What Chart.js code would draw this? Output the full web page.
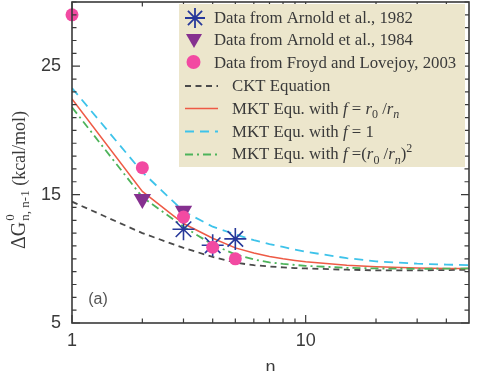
<!DOCTYPE html>
<html><head><meta charset="utf-8">
<script src="https://cdn.jsdelivr.net/npm/chart.js@4.4.0/dist/chart.umd.min.js"></script>
<style>html,body{margin:0;padding:0;background:#fff;}#wrap{width:478px;height:371px;}</style>
</head><body><div id="wrap"><canvas id="c" width="478" height="371"></canvas></div>
<script>
// ---- data ----
const curveN = [1, 2, 3, 4, 5, 6, 7, 8, 9, 10, 15, 20, 30, 40, 50];
const cktEquation = [14.45, 12.0, 10.85, 10.15, 9.7, 9.5, 9.4, 9.33, 9.28, 9.25, 9.15, 9.1, 9.1, 9.12, 9.15];
const mktRatio = [22.45, 15.25, 12.75, 11.6, 10.85, 10.45, 10.18, 10.0, 9.87, 9.77, 9.5, 9.38, 9.28, 9.25, 9.24];
const mktOne = [23.3, 16.75, 13.7, 12.5, 11.9, 11.45, 11.15, 10.92, 10.72, 10.55, 10.05, 9.8, 9.62, 9.55, 9.5];
const mktSquare = [21.8, 14.8, 12.5, 11.1, 10.35, 9.95, 9.72, 9.6, 9.52, 9.45, 9.3, 9.25, 9.22, 9.23, 9.25];
const arnold1982N = [3, 4, 5];
const arnold1982 = [12.3, 11.05, 11.55];
const arnold1984N = [2, 3];
const arnold1984 = [14.65, 13.75];
const froydN = [1, 2, 3, 4, 5];
const froyd = [29.0, 17.1, 13.25, 10.9, 10.0];
const xTickValues = [1, 10];
const yTickValues = [5, 15, 25];
const xMinorTicks = [2, 3, 4, 5, 6, 7, 8, 9, 20, 30, 40];
const yMinorTicks = [6,7,8,9,10,11,12,13,14,16,17,18,19,20,21,22,23,24,26,27,28,29,30];
const legendLabels = [
  [{t:'Data from Arnold et al., 1982'}],
  [{t:'Data from Arnold et al., 1984'}],
  [{t:'Data from Froyd and Lovejoy, 2003'}],
  [{t:'CKT Equation'}],
  [{t:'MKT Equ. with '},{t:'f',i:1},{t:' = '},{t:'r',i:1},{t:'0',sub:1},{t:' /'},{t:'r',i:1},{t:'n',sub:1,i:1}],
  [{t:'MKT Equ. with '},{t:'f',i:1},{t:' = 1'}],
  [{t:'MKT Equ. with '},{t:'f',i:1},{t:' =('},{t:'r',i:1},{t:'0',sub:1},{t:' /'},{t:'r',i:1},{t:'n',sub:1,i:1},{t:')'},{t:'2',sup:1}]
];

const C = {
  star: '#27399a', tri: '#85308f', pink: '#f24aa2',
  ckt: '#4a4a4a', red: '#ee5a45', blue: '#3ec3ea', green: '#4db35a',
  axis: '#3a3a3a', text: '#3a3a3a'
};
const xy = (xs, ys) => xs.map((x, i) => ({x, y: ys[i]}));

const datasets = [
  {label:'Data from Arnold et al., 1982', data: xy(arnold1982N, arnold1982), pointStyle:'star', pointRadius:11,
   borderColor:C.star, backgroundColor:C.star, pointBorderWidth:1.6, order:3, clip:false, showLine:false},
  {label:'Data from Arnold et al., 1984', data: xy(arnold1984N, arnold1984), pointStyle:'triangle', rotation:180, pointRadius:10,
   borderColor:C.tri, backgroundColor:C.tri, pointBorderWidth:0, order:2, clip:false, showLine:false},
  {label:'Data from Froyd and Lovejoy, 2003', data: xy(froydN, froyd), pointStyle:'circle', pointRadius:6.5,
   borderColor:C.pink, backgroundColor:C.pink, pointBorderWidth:0, order:1, clip:false, showLine:false},
  {label:'CKT Equation', data: xy(curveN, cktEquation), showLine:true, pointRadius:0, borderColor:C.ckt,
   borderWidth:1.8, borderDash:[6,4.5], order:10, tension:0},
  {label:'MKT f=r0/rn', data: xy(curveN, mktRatio), showLine:true, pointRadius:0, borderColor:C.red,
   borderWidth:1.5, order:9, tension:0},
  {label:'MKT f=1', data: xy(curveN, mktOne), showLine:true, pointRadius:0, borderColor:C.blue,
   borderWidth:1.8, borderDash:[9,6], order:8, tension:0},
  {label:'MKT f=(r0/rn)^2', data: xy(curveN, mktSquare), showLine:true, pointRadius:0, borderColor:C.green,
   borderWidth:1.8, borderDash:[8,4,2,4], order:7, tension:0}
];

function drawRich(ctx, x, y, segs, base, sub) {
  let cx = x;
  for (const s of segs) {
    const size = (s.sub || s.sup) ? sub : base;
    ctx.font = (s.i ? 'italic ' : '') + size + 'px "Liberation Serif"';
    const dy = s.sub ? base*0.28 : (s.sup ? -base*0.42 : 0);
    ctx.fillText(s.t, cx, y + dy);
    cx += ctx.measureText(s.t).width;
  }
  return cx;
}

function drawStar(ctx, x, y, r) {
  ctx.beginPath();
  for (let k = 0; k < 4; k++) {
    const a = k * Math.PI / 4;
    ctx.moveTo(x - Math.cos(a)*r, y - Math.sin(a)*r);
    ctx.lineTo(x + Math.cos(a)*r, y + Math.sin(a)*r);
  }
  ctx.stroke();
}

const framePlugin = {
  id: 'frame',
  afterDatasetsDraw(chart) {
    const ctx = chart.ctx, a = chart.chartArea;
    const xs = chart.scales.x, ys = chart.scales.y;
    ctx.save();
    ctx.strokeStyle = C.axis;
    ctx.lineWidth = 1.6;
    ctx.strokeRect(a.left, a.top, a.right - a.left, a.bottom - a.top);
    ctx.lineWidth = 1.2;
    ctx.beginPath();
    const tx = (v, len) => { const p = xs.getPixelForValue(v);
      ctx.moveTo(p, a.bottom); ctx.lineTo(p, a.bottom - len);
      ctx.moveTo(p, a.top); ctx.lineTo(p, a.top + len); };
    const ty = (v, len) => { const p = ys.getPixelForValue(v);
      ctx.moveTo(a.left, p); ctx.lineTo(a.left + len, p);
      ctx.moveTo(a.right, p); ctx.lineTo(a.right - len, p); };
    xTickValues.forEach(v => tx(v, 8));
    xMinorTicks.forEach(v => tx(v, 4.5));
    yTickValues.forEach(v => ty(v, 8));
    yMinorTicks.forEach(v => ty(v, 4.5));
    ctx.stroke();

    // legend box
    ctx.fillStyle = '#ece6cc';
    ctx.fillRect(179, 4, 286, 163);
    const base = [22.5, 45.3, 68.1, 90.9, 113.7, 136.5, 159.3];
    ctx.fillStyle = C.text;
    ctx.textBaseline = 'alphabetic';
    ctx.textAlign = 'left';
    legendLabels.forEach((segs, i) => {
      drawRich(ctx, i < 3 ? 214 : 232, base[i], segs, 16.8, 12);
    });
    // symbols
    ctx.strokeStyle = C.star; ctx.lineWidth = 1.8;
    drawStar(ctx, 195, 18, 10);
    ctx.fillStyle = C.star;
    ctx.beginPath(); ctx.arc(195, 18, 2, 0, Math.PI*2); ctx.fill();
    ctx.fillStyle = C.tri;
    ctx.beginPath(); ctx.moveTo(186, 34); ctx.lineTo(202, 34); ctx.lineTo(194, 48); ctx.closePath(); ctx.fill();
    ctx.fillStyle = C.pink;
    ctx.beginPath(); ctx.arc(193.5, 62, 7, 0, Math.PI*2); ctx.fill();
    const ln = (y, col, dash, w) => { ctx.strokeStyle = col; ctx.lineWidth = w; ctx.setLineDash(dash);
      ctx.beginPath(); ctx.moveTo(185, y); ctx.lineTo(218, y); ctx.stroke(); };
    ln(86, C.ckt, [6,4.5], 1.8);
    ln(108.5, C.red, [], 1.5);
    ln(131.5, C.blue, [9,6], 1.8);
    ln(154.5, C.green, [8,4,2,4], 1.8);
    ctx.setLineDash([]);

    // (a) label
    ctx.fillStyle = '#555';
    ctx.font = '16px "Liberation Sans"';
    ctx.textAlign = 'center'; ctx.textBaseline = 'middle';
    ctx.fillText('(a)', 98, 300);

    // x title
    ctx.fillStyle = C.text;
    ctx.font = '18px "Liberation Sans"';
    ctx.textBaseline = 'alphabetic';
    ctx.fillText('n', (a.left + a.right)/2, 373);

    // y title (rotated, with super/subscripts)
    ctx.save();
    ctx.translate(25, 249);
    ctx.rotate(-Math.PI/2);
    ctx.textAlign = 'left';
    ctx.fillStyle = C.text;
    ctx.font = '20px "Liberation Serif"';
    ctx.fillText('ΔG', 0, 0);
    let cx = ctx.measureText('ΔG').width + 1;
    ctx.font = '13px "Liberation Serif"';
    ctx.fillText('0', cx, -11);
    ctx.fillText('n, n-1', cx, 4);
    cx += ctx.measureText('n, n-1').width;
    ctx.font = '18px "Liberation Serif"';
    ctx.fillText(' (kcal/mol)', cx, 0);
    ctx.restore();
    ctx.restore();
  }
};

new Chart(document.getElementById('c'), {
  type: 'scatter',
  data: { datasets },
  options: {
    responsive: false, animation: false, devicePixelRatio: 1,
    layout: { autoPadding: false, padding: { top: 2, right: 9, left: 0, bottom: 0 } },
    plugins: { legend: { display: false }, tooltip: { enabled: false } },
    scales: {
      x: {
        type: 'logarithmic', min: 1, max: 50, position: 'bottom',
        grid: { display: false, drawTicks: false }, border: { display: false },
        ticks: { color: C.text, font: { family: 'Liberation Sans', size: 18 }, padding: 7,
                 maxRotation: 0, autoSkip: false, callback: v => String(v) },
        afterBuildTicks: s => { s.ticks = xTickValues.map(v => ({ value: v })); },
        afterFit: s => { s.height = 48; s.paddingLeft = 0; s.paddingRight = 0; }
      },
      y: {
        type: 'linear', min: 5, max: 30,
        grid: { display: false, drawTicks: false }, border: { display: false },
        ticks: { color: C.text, font: { family: 'Liberation Sans', size: 18 }, padding: 11, autoSkip: false },
        afterBuildTicks: s => { s.ticks = yTickValues.map(v => ({ value: v })); },
        afterFit: s => { s.width = 72; s.paddingTop = 0; s.paddingBottom = 0; }
      }
    }
  },
  plugins: [framePlugin]
});
</script>
</body></html>
